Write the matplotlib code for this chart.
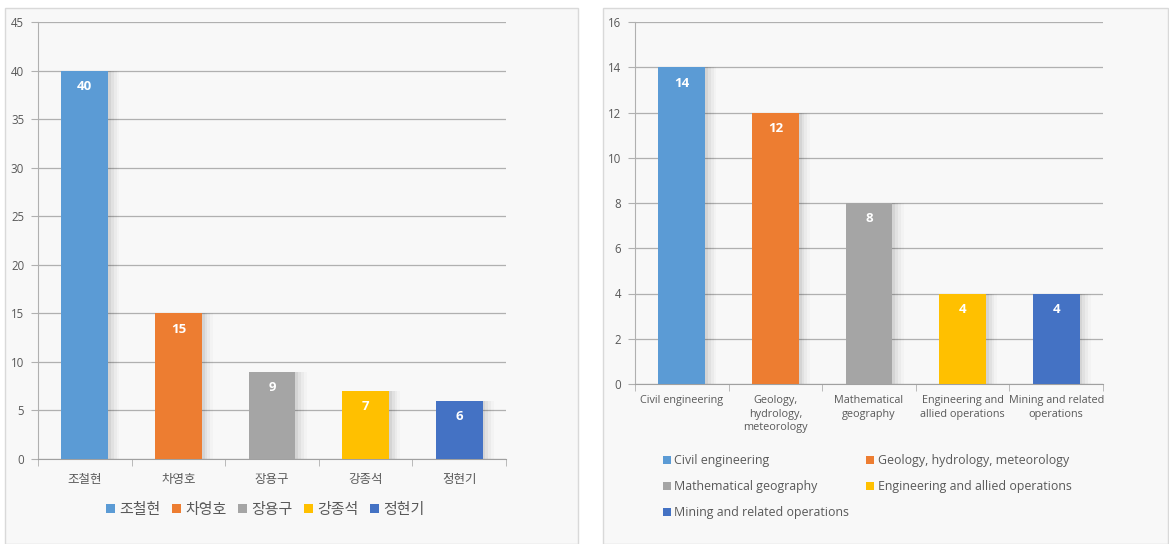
import matplotlib
matplotlib.use("Agg")
import matplotlib.pyplot as plt
from matplotlib.patches import Rectangle, Patch

plt.rcParams['font.family'] = ['Noto Sans CJK KR', 'DejaVu Sans']

# ---- data ----
left_categories = ['조철현', '차영호', '장용구', '강종석', '정현기']
left_values = [40, 15, 9, 7, 6]
left_yticks = [0, 5, 10, 15, 20, 25, 30, 35, 40, 45]

right_categories = ['Civil engineering', 'Geology, hydrology, meteorology',
                    'Mathematical geography', 'Engineering and allied operations',
                    'Mining and related operations']
right_ticklabels = ['Civil engineering', 'Geology,\nhydrology,\nmeteorology',
                    'Mathematical\ngeography', 'Engineering and\nallied operations',
                    'Mining and related\noperations']
right_values = [14, 12, 8, 4, 4]
right_yticks = [0, 2, 4, 6, 8, 10, 12, 14, 16]

colors = ['#5B9BD5', '#ED7D31', '#A5A5A5', '#FFC000', '#4472C4']
text_col = '#595959'
grid_col = '#b0b0b0'

W, H = 1169, 544
fig = plt.figure(figsize=(W / 100, H / 100), dpi=100)
fig.patch.set_facecolor('white')

def px(x0, y0, x1, y1):
    return [x0 / W, 1 - y1 / H, (x1 - x0) / W, (y1 - y0) / H]

# panel backgrounds
for (x0, x1) in [(5, 578), (603, 1168)]:
    fig.patches.append(Rectangle((x0 / W, 0), (x1 - x0) / W, 1 - 8 / H,
                                 transform=fig.transFigure, facecolor='#f8f8f8',
                                 edgecolor='#d9d9d9', linewidth=1, zorder=-10))

def draw(ax, cats, vals, yticks, ticklabels, label_fs, ytick_fs, xpad):
    ax.set_zorder(1)
    ax.set_facecolor('none')
    xs = list(range(len(cats)))
    # soft shadow
    for k, a in enumerate([0.05, 0.04, 0.03, 0.02]):
        off = 0.03 + 0.03 * k
        ax.bar([x + off for x in xs], vals, width=0.5, color='#000000', alpha=a,
               zorder=2, linewidth=0)
    ax.bar(xs, vals, width=0.5, color=colors, zorder=3)
    for x, v in zip(xs, vals):
        ax.annotate(str(v), (x, v), xytext=(0, -11.5), textcoords='offset points',
                    ha='center', va='center', color='white', fontweight='bold',
                    fontsize=9.5, family=['Open Sans', 'DejaVu Sans'], zorder=4)
    ax.set_xlim(-0.5, len(cats) - 0.5)
    ax.set_ylim(yticks[0], yticks[-1])
    ax.set_yticks(yticks)
    ax.yaxis.grid(True, color=grid_col, linewidth=0.9, zorder=1)
    ax.set_axisbelow(True)
    ax.tick_params(axis='y', length=5, color=grid_col, labelsize=ytick_fs,
                   labelcolor=text_col, pad=5)
    ax.set_yticklabels([str(t) for t in yticks], family=['Open Sans', 'DejaVu Sans'])
    ax.set_xticks(xs)
    ax.set_xticklabels(ticklabels, fontsize=label_fs, color=text_col, linespacing=1.3)
    ax.set_xticks([x - 0.5 for x in xs] + [len(cats) - 0.5], minor=True)
    ax.tick_params(axis='x', which='major', length=0, pad=xpad)
    ax.tick_params(axis='x', which='minor', length=5, color=grid_col)
    for s in ['top', 'right']:
        ax.spines[s].set_visible(False)
    ax.spines['left'].set_color(grid_col)
    ax.spines['bottom'].set_color('#a0a0a0')

axL = fig.add_axes(px(38, 22, 506, 459))
draw(axL, left_categories, left_values, left_yticks, left_categories, 9, 8.3, 10)

axR = fig.add_axes(px(635, 22, 1103, 384))
draw(axR, right_categories, right_values, right_yticks, right_ticklabels, 7.8, 8.3, 8)
for t in axR.get_xticklabels():
    t.set_family(['Open Sans', 'DejaVu Sans'])

# legends
hL = [Patch(facecolor=c, edgecolor='none') for c in colors]
fig.legend(hL, left_categories, loc='center', bbox_to_anchor=(265 / W, 1 - 510 / H),
           ncol=5, frameon=False, fontsize=10.8, labelcolor=text_col,
           handlelength=0.6, handleheight=0.6, handletextpad=0.3, columnspacing=0.75)

order = [0, 2, 4, 1, 3]
hR = [Patch(facecolor=colors[i], edgecolor='none') for i in order]
lab = [right_categories[i] for i in order]
fig.legend(hR, lab, loc='upper left', bbox_to_anchor=(652 / W, 1 - 443 / H),
           ncol=2, frameon=False, labelcolor=text_col,
           handlelength=0.6, handleheight=0.6, handletextpad=0.3,
           columnspacing=1.4, labelspacing=1.05,
           prop={'family': ['Open Sans', 'DejaVu Sans'], 'size': 8.9})

fig.savefig('out.png', dpi=100, facecolor='white')
